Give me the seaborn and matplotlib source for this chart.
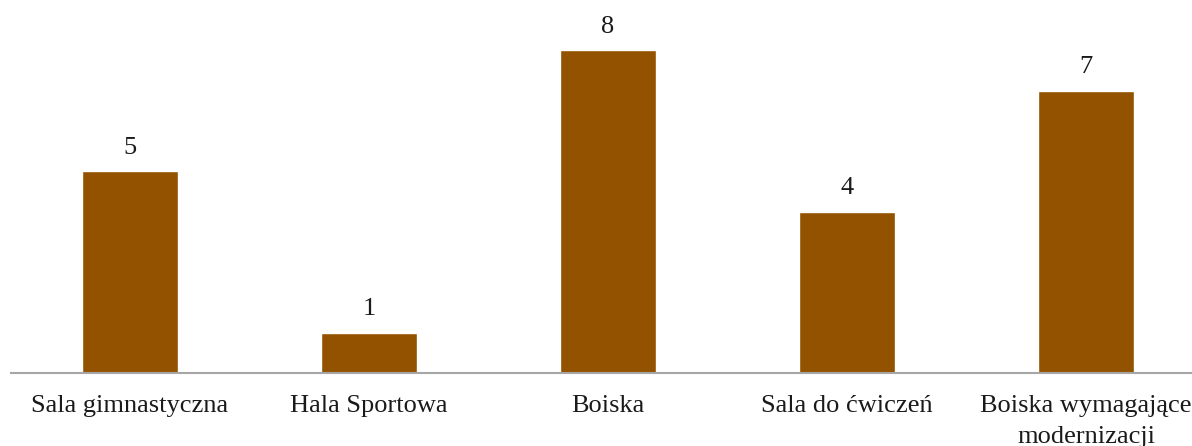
import matplotlib
matplotlib.use("Agg")
import matplotlib.pyplot as plt
import seaborn as sns
import pandas as pd

# dane
categories = ["Sala gimnastyczna", "Hala Sportowa", "Boiska", "Sala do ćwiczeń",
              "Boiska wymagające\nmodernizacji"]
values = [5, 1, 8, 4, 7]

sns.set_theme(style="white")
plt.rcParams["font.family"] = ["Liberation Serif", "DejaVu Serif"]

df = pd.DataFrame({"kategoria": categories, "liczba": values})

fig = plt.figure(figsize=(11.92, 4.46), dpi=100)
ax = fig.add_axes([10.5 / 1192, 1 - 373 / 446, 1195 / 1192, 363 / 446])

sns.barplot(data=df, x="kategoria", y="liczba", color="#935200",
            width=0.4, saturation=1, ax=ax)

for c in ax.containers:
    ax.bar_label(c, padding=9, fontsize=19, color="#1a1a1a")

ax.set_ylim(0, 9)
ax.set_xlim(-0.5, 4.5)
ax.set_xlabel("")
ax.set_ylabel("")
ax.set_yticks([])
ax.tick_params(axis="x", length=0, pad=16, labelsize=19, colors="#1a1a1a")
for t in ax.get_xticklabels():
    t.set_linespacing(1.5)

for s in ["top", "right", "left"]:
    ax.spines[s].set_visible(False)
ax.spines["bottom"].set_color("#a6a6a6")
ax.spines["bottom"].set_linewidth(1.5)

fig.savefig("out.png", dpi=100)
